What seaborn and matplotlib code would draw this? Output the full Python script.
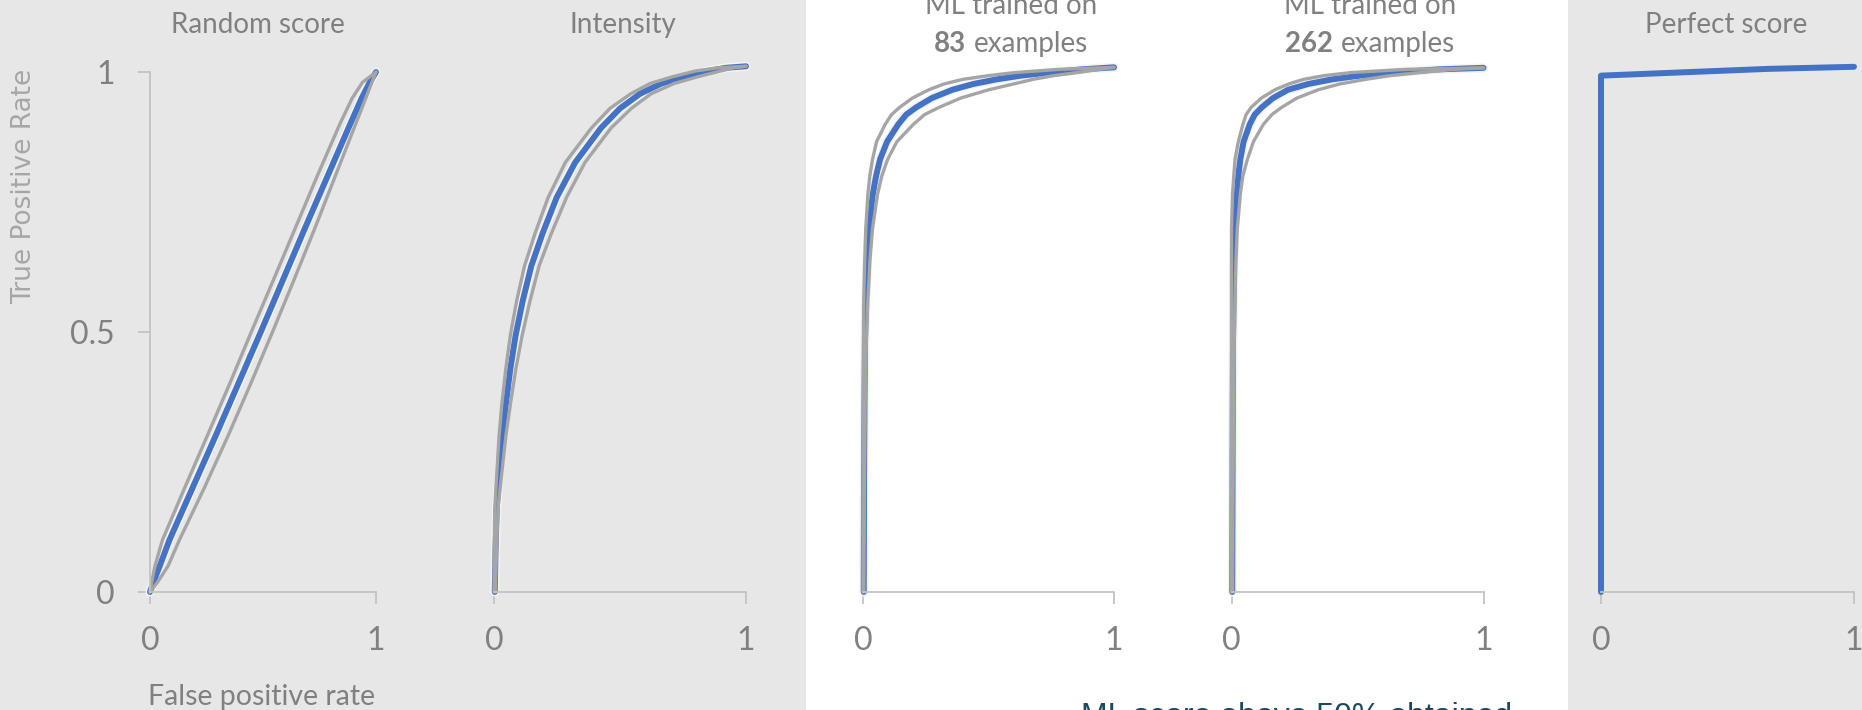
import matplotlib
matplotlib.use("Agg")
import matplotlib.pyplot as plt
import matplotlib.patheffects as pe
from matplotlib.patches import Rectangle
import seaborn as sns

# ---- ROC curves: false-positive rate (x) against true-positive rate (y) ----
# Random score
random_tpr = [0, 0.02, 0.05, 0.1, 0.2, 0.3, 0.4, 0.5, 0.6, 0.7, 0.8, 0.9, 0.95, 0.98, 1.0]
random_mean = [0, 0.016, 0.043, 0.086, 0.188, 0.29, 0.39, 0.49, 0.588, 0.686, 0.786, 0.886, 0.937, 0.972, 1.0]
random_upper = [0, 0.008, 0.022, 0.055, 0.153, 0.253, 0.352, 0.448, 0.546, 0.643, 0.74, 0.84, 0.895, 0.94, 1.0]
random_lower = [0, 0.035, 0.08, 0.13, 0.24, 0.345, 0.445, 0.542, 0.637, 0.73, 0.82, 0.91, 0.955, 0.982, 1.0]

# Intensity
intensity_tpr = [0, 0.08, 0.162, 0.229, 0.3, 0.361, 0.43, 0.494, 0.56, 0.627, 0.69, 0.759, 0.826,
                 0.892, 0.93, 0.958, 0.978, 0.991, 1.002, 1.008, 1.011]
intensity_mean = [0.003, 0.006, 0.011, 0.02, 0.032, 0.047, 0.065, 0.086, 0.114, 0.148, 0.193, 0.249,
                  0.322, 0.424, 0.5, 0.579, 0.665, 0.763, 0.85, 0.919, 1.0]
intensity_upper = [0, 0.001, 0.003, 0.011, 0.02, 0.031, 0.047, 0.065, 0.09, 0.121, 0.163, 0.215,
                   0.283, 0.386, 0.46, 0.542, 0.62, 0.709, 0.8, 0.888, 1.0]
intensity_lower = [0.005, 0.01, 0.016, 0.031, 0.047, 0.065, 0.087, 0.112, 0.143, 0.179, 0.228, 0.288,
                   0.361, 0.464, 0.545, 0.623, 0.715, 0.81, 0.9, 0.95, 1.0]

# ML trained on 83 examples
ml83_tpr = [0, 0.2, 0.364, 0.48, 0.565, 0.64, 0.699, 0.765, 0.8, 0.832, 0.866, 0.899, 0.918, 0.932,
            0.95, 0.966, 0.977, 0.986, 0.993, 0.999, 1.005, 1.009]
ml83_mean = [0.003, 0.004, 0.006, 0.008, 0.011, 0.016, 0.024, 0.039, 0.052, 0.068, 0.096, 0.14, 0.172,
             0.212, 0.275, 0.357, 0.44, 0.534, 0.63, 0.743, 0.87, 1.0]
ml83_upper = [0, 0, 0.001, 0.0015, 0.003, 0.007, 0.011, 0.0195, 0.027, 0.038, 0.054, 0.088, 0.1135,
              0.146, 0.197, 0.263, 0.323, 0.399, 0.5, 0.606, 0.779, 1.0]
ml83_lower = [0.003, 0.006, 0.009, 0.013, 0.02, 0.028, 0.038, 0.058, 0.075, 0.098, 0.135, 0.2, 0.245,
              0.303, 0.39, 0.502, 0.6, 0.679, 0.76, 0.857, 0.94, 1.0]

# ML trained on 262 examples
ml262_tpr = [0, 0.2, 0.364, 0.48, 0.565, 0.64, 0.699, 0.765, 0.8, 0.832, 0.866, 0.899, 0.918, 0.932,
             0.95, 0.966, 0.977, 0.986, 0.993, 0.999, 1.005, 1.008]
ml262_mean = [0.003, 0.004, 0.005, 0.006, 0.008, 0.01, 0.013, 0.021, 0.027, 0.035, 0.048, 0.072, 0.092,
              0.12, 0.165, 0.225, 0.305, 0.401, 0.51, 0.642, 0.82, 1.0]
ml262_upper = [0, 0, 0, 0, 0, 0, 0, 0.004, 0.009, 0.014, 0.027, 0.045, 0.058, 0.078,
               0.119, 0.173, 0.227, 0.287, 0.367, 0.476, 0.69, 1.0]
ml262_lower = [0.0045, 0.006, 0.009, 0.011, 0.014, 0.018, 0.023, 0.035, 0.045, 0.063, 0.087, 0.126,
               0.16, 0.199, 0.26, 0.345, 0.43, 0.534, 0.63, 0.751, 0.88, 1.0]

# Perfect score
perfect_fpr = [0, 0, 0.66, 1.0]
perfect_tpr = [0, 0.993, 1.006, 1.01]

x_ticks = [0, 1]
x_tick_labels = ["0", "1"]
y_ticks = [0, 0.5, 1]
y_tick_labels = ["0", "0.5", "1"]

# ---- style ----
BG = "#e7e7e7"
BLUE = "#4472C4"
GREY_LINE = "#a5a5a5"
AXIS = "#c3c3c3"
TEXT = "#808080"
W, H = 1862, 710

sns.set_theme(style="white")
plt.rcParams["font.family"] = ["Lato", "DejaVu Sans"]

fig = plt.figure(figsize=(W / 100, H / 100), dpi=100, facecolor=BG)
fig.patches.append(Rectangle((806 / W, 0), (1568 - 806) / W, 1, transform=fig.transFigure,
                             facecolor="white", edgecolor="none", zorder=-5))

top, bottom = 72, 592
panels = [
    (150, 226, random_tpr, random_mean, random_upper, random_lower),
    (494, 252, intensity_tpr, intensity_mean, intensity_upper, intensity_lower),
    (863, 251, ml83_tpr, ml83_mean, ml83_upper, ml83_lower),
    (1231.5, 252, ml262_tpr, ml262_mean, ml262_upper, ml262_lower),
    (1601, 253, perfect_tpr, perfect_fpr, None, None),
]

for i, (left, width, tpr, mean, upper, lower) in enumerate(panels):
    ax = fig.add_axes([left / W, 1 - bottom / H, width / W, (bottom - top) / H])
    ax.set_facecolor("none")
    sns.lineplot(x=mean, y=tpr, sort=False, estimator=None, color=BLUE,
                 linewidth=4.3, ax=ax)
    blue = ax.lines[-1]
    blue.set_clip_on(False)
    blue.set_solid_joinstyle("round")
    if upper is not None:
        blue.set_path_effects([pe.Stroke(linewidth=6.6, foreground="#f4f4f4"), pe.Normal()])
        for band in (upper, lower):
            sns.lineplot(x=band, y=tpr, sort=False, estimator=None, color=GREY_LINE,
                         linewidth=2.4, ax=ax)
            ax.lines[-1].set_clip_on(False)
            ax.lines[-1].set_solid_joinstyle("round")

    ax.set_xlim(0, 1)
    ax.set_ylim(0, 1)
    for s in ("top", "right"):
        ax.spines[s].set_visible(False)
    ax.spines["bottom"].set_color(AXIS)
    ax.spines["bottom"].set_linewidth(1.3)
    ax.set_xticks(x_ticks)
    ax.set_xticklabels(x_tick_labels)
    ax.tick_params(axis="x", direction="out", length=8.5, width=1.3, color=AXIS,
                   labelcolor=TEXT, labelsize=23, pad=16, bottom=True)
    if i == 0:
        ax.spines["left"].set_color(AXIS)
        ax.spines["left"].set_linewidth(1.3)
        ax.set_yticks(y_ticks)
        ax.set_yticklabels(y_tick_labels)
        ax.tick_params(axis="y", direction="out", length=8.5, width=1.3, color=AXIS,
                       labelcolor=TEXT, labelsize=23, pad=17, left=True)
    else:
        ax.spines["left"].set_visible(False)
        ax.set_yticks([])
    ax.set_xlabel("")
    ax.set_ylabel("")

# ---- titles ----
title_kw = dict(color=TEXT, fontsize=20, ha="center", va="baseline")
fig.text(258 / W, 1 - 33 / H, "Random score", **title_kw)
fig.text(623 / W, 1 - 33 / H, "Intensity", **title_kw)
fig.text(1011 / W, 1 - 14 / H, "ML trained on", **title_kw)
fig.text(1370 / W, 1 - 14 / H, "ML trained on", **title_kw)
fig.text(1726 / W, 1 - 33 / H, "Perfect score", **title_kw)

# second title line with a bold count
renderer = fig.canvas.get_renderer()
for cx, count in ((1011, "83"), (1370, "262")):
    t_num = fig.text(0, 1 - 52 / H, count, color=TEXT, fontsize=20, weight="bold",
                     ha="left", va="baseline")
    t_word = fig.text(0, 1 - 52 / H, "examples", color=TEXT, fontsize=20,
                      ha="left", va="baseline")
    w_num = t_num.get_window_extent(renderer).width
    w_word = t_word.get_window_extent(renderer).width
    gap = 0.26 * 20 * 100 / 72
    x0 = cx - (w_num + gap + w_word) / 2
    t_num.set_x(x0 / W)
    t_word.set_x((x0 + w_num + gap) / W)

# axis labels
fig.text(24 / W, 1 - 186 / H, "True Positive Rate", rotation=90, ha="center", va="center",
         color="#a6a6a6", fontsize=19, family="DejaVu Sans")
fig.text(262 / W, 5 / H, "False positive rate", ha="center", va="baseline",
         color=TEXT, fontsize=20.5)
fig.text(1081 / W, -15 / H, "ML score above 50% obtained", ha="left", va="baseline",
         color="#1b4a5c", fontsize=23, family="Liberation Sans")

fig.savefig("out.png", dpi=100, facecolor=BG)
